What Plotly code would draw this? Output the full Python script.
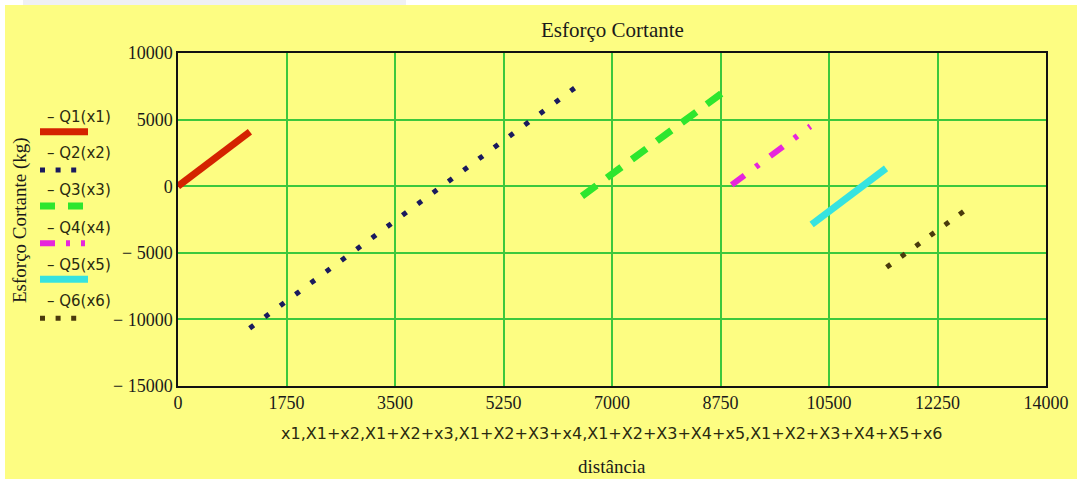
import plotly.graph_objects as go

# Shear force segments: distance (x) and shear (kg) at each segment's ends
x1 = [0, 1160]
q1 = [0, 4090]
x2 = [1156, 6397]
q2 = [-10665, 7365]
x3 = [6516, 8790]
q3 = [-750, 7050]
x4 = [8930, 10200]
q4 = [100, 4500]
x5 = [10220, 11420]
q5 = [-2880, 1340]
x6 = [11429, 12671]
q6 = [-6090, -1890]

series_names = ["Q1(x1)", "Q2(x2)", "Q3(x3)", "Q4(x4)", "Q5(x5)", "Q6(x6)"]
x_ticks = [0, 1750, 3500, 5250, 7000, 8750, 10500, 12250, 14000]
x_tick_text = ["0", "1750", "3500", "5250", "7000", "8750", "10500", "12250", "14000"]
y_ticks = [10000, 5000, 0, -5000, -10000, -15000]
y_tick_text = ["10000", "5000", "0", "\u2212 5000", "\u2212 10000", "\u2212 15000"]

W, H = 1077, 479
L, R, T, B = 178, 1046, 53, 386  # plot area in pixels

BG = "#FDFD82"
GRID = "#3CC83C"
SERIF = "Liberation Serif"
SANS = "DejaVu Sans"

styles = [
    dict(color="#D42200", width=7, dash="solid"),
    dict(color="#1A1A5E", width=5, dash="5px,14px"),
    dict(color="#2EE62E", width=7, dash="18px,13px"),
    dict(color="#E625DC", width=6, dash="16px,14px,4px,14px"),
    dict(color="#36E3E0", width=7, dash="solid"),
    dict(color="#4A3A0C", width=5, dash="5px,13px"),
]


def px_x(p):
    return (p - L) / (R - L)


def px_y(p):
    return (B - p) / (B - T)


fig = go.Figure()
for xs, ys, st, nm in zip([x1, x2, x3, x4, x5, x6], [q1, q2, q3, q4, q5, q6],
                          styles, series_names):
    fig.add_trace(go.Scatter(x=xs, y=ys, mode="lines", name=nm, line=st,
                             showlegend=False, hoverinfo="x+y"))

shapes = [
    # white border strips and the grey tab at the top-left
    dict(type="rect", xref="paper", yref="paper", x0=px_x(0), x1=px_x(W),
         y0=px_y(5), y1=px_y(0), fillcolor="white", line_width=0, layer="below"),
    dict(type="rect", xref="paper", yref="paper", x0=px_x(0), x1=px_x(5),
         y0=px_y(H), y1=px_y(0), fillcolor="white", line_width=0, layer="below"),
    dict(type="rect", xref="paper", yref="paper", x0=px_x(23), x1=px_x(406),
         y0=px_y(5), y1=px_y(0), fillcolor="#EFF0F4", line_width=0, layer="below"),
]

# Legend: label above a sample of each trace style
label_y = [116.7, 153.3, 190, 228.3, 265, 300.7]
sample_y = [131.7, 170, 206, 243.3, 279.3, 318.3]
sample_x1 = [88, 77, 83, 85, 88, 77]
legend_dash = ["solid", "5px,10.6px", "15px,13px", "15px,11px,4px,11px", "solid", "5px,10.6px"]
annotations = []
for nm, ly, sy, sx, st, ld in zip(series_names, label_y, sample_y, sample_x1,
                                  styles, legend_dash):
    annotations.append(dict(text="\u2013 " + nm, xref="paper", yref="paper",
                            x=px_x(45), y=px_y(ly), xanchor="left", yanchor="middle",
                            showarrow=False, font=dict(family=SANS, size=15, color="#2a2a10")))
    lst = dict(st, dash=ld)
    shapes.append(dict(type="line", xref="paper", yref="paper",
                       x0=px_x(40), x1=px_x(sx), y0=px_y(sy), y1=px_y(sy), line=lst))

annotations += [
    dict(text="Esforço Cortante", xref="paper", yref="paper", x=0.5, y=px_y(30),
         xanchor="center", yanchor="middle", showarrow=False,
         font=dict(family=SERIF, size=21, color="#1a1a1a")),
    dict(text="Esforço Cortante (kg)", xref="paper", yref="paper", x=px_x(20),
         y=px_y(220), xanchor="center", yanchor="middle", textangle=-90,
         showarrow=False, font=dict(family=SERIF, size=19, color="#1a1a1a")),
    dict(text="x1,X1+x2,X1+X2+x3,X1+X2+X3+x4,X1+X2+X3+X4+x5,X1+X2+X3+X4+X5+x6",
         xref="paper", yref="paper", x=0.5, y=px_y(433), xanchor="center",
         yanchor="middle", showarrow=False,
         font=dict(family=SANS, size=16, color="#2a2a10")),
    dict(text="distância", xref="paper", yref="paper", x=0.5, y=px_y(466),
         xanchor="center", yanchor="middle", showarrow=False,
         font=dict(family=SERIF, size=19, color="#1a1a1a")),
]

axis_common = dict(showgrid=True, gridcolor=GRID, gridwidth=2, zeroline=False,
                   showline=True, linecolor="#111111", linewidth=1.5, mirror=True,
                   ticks="", automargin=False,
                   tickfont=dict(family=SERIF, size=18, color="#1a1a1a"))

fig.update_layout(
    width=W, height=H,
    margin=dict(l=L, r=W - R, t=T, b=H - B, pad=0, autoexpand=False),
    paper_bgcolor=BG, plot_bgcolor=BG,
    showlegend=False,
    xaxis=dict(range=[0, 14000], tickvals=x_ticks, ticktext=x_tick_text, **axis_common),
    yaxis=dict(range=[-15000, 10000], tickvals=y_ticks, ticktext=y_tick_text,
               **axis_common),
    shapes=shapes,
    annotations=annotations,
)

fig.write_html("out.html")
